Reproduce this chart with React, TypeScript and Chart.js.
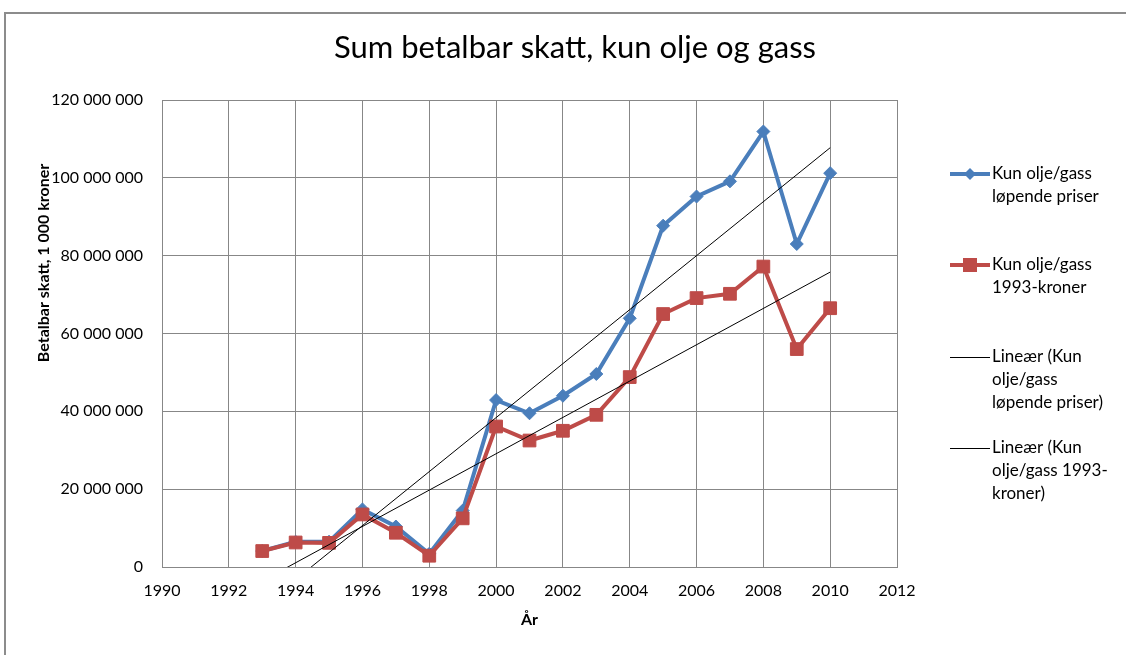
import { useEffect, useRef } from "react";
import { Chart, registerables } from "chart.js";

Chart.register(...registerables);

// ---- data (values in 1 000 kroner) ----
const years = [1993, 1994, 1995, 1996, 1997, 1998, 1999, 2000, 2001, 2002, 2003, 2004, 2005, 2006, 2007, 2008, 2009, 2010];
const currentPrices = [4100000, 6500000, 6500000, 14800000, 10400000, 3400000, 14500000, 42900000, 39500000, 44000000, 49600000, 63900000, 87700000, 95200000, 99100000, 111900000, 83000000, 101200000];
const prices1993 = [4100000, 6300000, 6200000, 13500000, 8800000, 2900000, 12500000, 36100000, 32500000, 35000000, 39100000, 48800000, 65000000, 69100000, 70200000, 77200000, 56000000, 66500000];

const titleText = "Sum betalbar skatt, kun olje og gass";
const yTitleText = "Betalbar skatt, 1 000 kroner";
const xTitleText = "År";
const xMin = 1990;
const xMax = 2012;
const xStep = 2;
const yMin = 0;
const yMax = 120000000;
const yStep = 20000000;

const legendBlue = ["Kun olje/gass", "løpende priser"];
const legendRed = ["Kun olje/gass", "1993-kroner"];
const legendTrendBlue = ["Lineær (Kun", "olje/gass", "løpende priser)"];
const legendTrendRed = ["Lineær (Kun", "olje/gass 1993-", "kroner)"];

const BLUE = "#4a7ebb";
const RED = "#be4b48";
const FONT = "Lato, 'Open Sans', sans-serif";

function linearTrend(xs: number[], ys: number[]) {
  const n = xs.length;
  const mx = xs.reduce((a, b) => a + b, 0) / n;
  const my = ys.reduce((a, b) => a + b, 0) / n;
  let sxy = 0;
  let sxx = 0;
  for (let i = 0; i < n; i++) {
    sxy += (xs[i] - mx) * (ys[i] - my);
    sxx += (xs[i] - mx) * (xs[i] - mx);
  }
  const b = sxy / sxx;
  const a = my - b * mx;
  const x0 = xs[0];
  const x1 = xs[n - 1];
  return [
    { x: x0, y: a + b * x0 },
    { x: x1, y: a + b * x1 },
  ];
}

function fmtSpace(v: number) {
  return Math.round(v).toString().replace(/\B(?=(\d{3})+(?!\d))/g, " ");
}

const decorPlugin = {
  id: "decor",
  afterDraw(chart: any) {
    const ctx = chart.ctx as CanvasRenderingContext2D;
    const area = chart.chartArea;
    ctx.save();
    // outer frame
    ctx.strokeStyle = "#8c8c8c";
    ctx.lineWidth = 2;
    ctx.beginPath();
    ctx.moveTo(1126, 13);
    ctx.lineTo(5, 13);
    ctx.lineTo(5, 655);
    ctx.stroke();

    ctx.fillStyle = "#000";
    // title
    ctx.font = `31px ${FONT}`;
    ctx.textAlign = "center";
    ctx.textBaseline = "middle";
    ctx.fillText(titleText, 575, 48);

    // x title
    ctx.font = `bold 16px ${FONT}`;
    ctx.fillText(xTitleText, (area.left + area.right) / 2, 620);

    // y title
    ctx.save();
    ctx.translate(44, 263);
    ctx.rotate(-Math.PI / 2);
    ctx.fillText(yTitleText, 0, 0);
    ctx.restore();

    // legend
    const lx0 = 950;
    const lx1 = 990;
    const tx = 992;
    const lh = 23;
    const drawText = (lines: string[], y: number) => {
      ctx.font = `17px ${FONT}`;
      ctx.textAlign = "left";
      ctx.textBaseline = "middle";
      ctx.fillStyle = "#000";
      lines.forEach((l, i) => ctx.fillText(l, tx, y + i * lh));
    };
    // blue
    let y = 174;
    ctx.strokeStyle = BLUE;
    ctx.lineWidth = 4;
    ctx.beginPath();
    ctx.moveTo(lx0, y);
    ctx.lineTo(lx1, y);
    ctx.stroke();
    ctx.fillStyle = BLUE;
    ctx.beginPath();
    const cx = (lx0 + lx1) / 2;
    ctx.moveTo(cx, y - 6);
    ctx.lineTo(cx + 6, y);
    ctx.lineTo(cx, y + 6);
    ctx.lineTo(cx - 6, y);
    ctx.closePath();
    ctx.fill();
    drawText(legendBlue, y);
    // red
    y = 265;
    ctx.strokeStyle = RED;
    ctx.lineWidth = 4;
    ctx.beginPath();
    ctx.moveTo(lx0, y);
    ctx.lineTo(lx1, y);
    ctx.stroke();
    ctx.fillStyle = RED;
    ctx.fillRect(cx - 7, y - 7, 14, 14);
    drawText(legendRed, y);
    // trend lines
    [[357, legendTrendBlue], [448, legendTrendRed]].forEach(([yy, lines]: any) => {
      ctx.strokeStyle = "#000";
      ctx.lineWidth = 1;
      ctx.beginPath();
      ctx.moveTo(lx0, yy + 0.5);
      ctx.lineTo(lx1, yy + 0.5);
      ctx.stroke();
      drawText(lines, yy);
    });
    ctx.restore();
  },
};

export default function App() {
  const ref = useRef<HTMLCanvasElement>(null);

  useEffect(() => {
    if (!ref.current) return;
    const blueData = years.map((x, i) => ({ x, y: currentPrices[i] }));
    const redData = years.map((x, i) => ({ x, y: prices1993[i] }));
    const chart = new Chart(ref.current, {
      type: "line",
      data: {
        datasets: [
          {
            label: "Lineær (Kun olje/gass løpende priser)",
            data: linearTrend(years, currentPrices),
            borderColor: "#000",
            borderWidth: 1,
            pointRadius: 0,
            order: 0,
          },
          {
            label: "Lineær (Kun olje/gass 1993-kroner)",
            data: linearTrend(years, prices1993),
            borderColor: "#000",
            borderWidth: 1,
            pointRadius: 0,
            order: 0,
          },
          {
            label: "Kun olje/gass 1993-kroner",
            data: redData,
            borderColor: RED,
            backgroundColor: RED,
            borderWidth: 4,
            pointStyle: "rect",
            pointRadius: 9,
            pointBorderWidth: 1,
            pointBorderColor: RED,
            order: 1,
          },
          {
            label: "Kun olje/gass løpende priser",
            data: blueData,
            borderColor: BLUE,
            backgroundColor: BLUE,
            borderWidth: 4,
            pointStyle: "rectRot",
            pointRadius: 6.5,
            pointBorderWidth: 1,
            pointBorderColor: BLUE,
            order: 2,
          },
        ],
      },
      options: {
        responsive: false,
        animation: false,
        layout: { padding: { left: 0, top: 100, right: 229, bottom: 0 } },
        plugins: {
          legend: { display: false },
          title: { display: false },
          tooltip: { enabled: false },
        },
        scales: {
          x: {
            type: "linear",
            min: xMin,
            max: xMax,
            afterFit: (s: any) => {
              s.height = 88;
            },
            ticks: {
              stepSize: xStep,
              padding: 14,
              color: "#000",
              font: { family: FONT, size: 16 },
              callback: (v: any) => String(v),
            },
            grid: { color: "#878787", drawTicks: false },
            border: { color: "#878787" },
          },
          y: {
            type: "linear",
            min: yMin,
            max: yMax,
            afterFit: (s: any) => {
              s.width = 162;
            },
            ticks: {
              stepSize: yStep,
              padding: 19,
              color: "#000",
              font: { family: FONT, size: 16 },
              callback: (v: any) => fmtSpace(v),
            },
            grid: { color: "#878787", drawTicks: false },
            border: { color: "#878787" },
          },
        },
      },
      plugins: [decorPlugin],
    });
    return () => chart.destroy();
  }, []);

  return (
    <div style={{ position: "fixed", left: 0, top: 0, width: 1126, height: 655, background: "#fff" }}>
      <canvas ref={ref} width={1126} height={655} style={{ display: "block" }} />
    </div>
  );
}
